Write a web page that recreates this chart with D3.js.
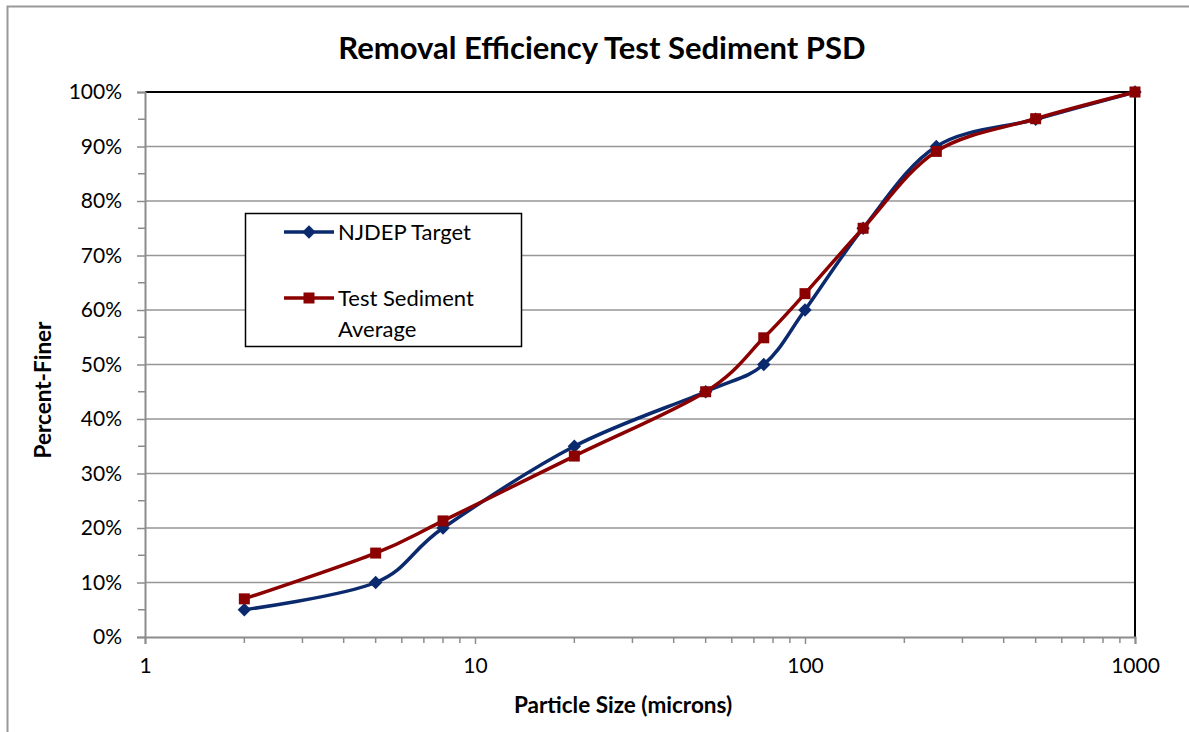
<!DOCTYPE html>
<html>
<head>
<meta charset="utf-8">
<script src="https://cdn.jsdelivr.net/npm/d3@7"></script>
<style>
  body { margin: 0; background: #fff; }
  svg { font-family: Lato, "Open Sans", sans-serif; }
</style>
</head>
<body>
<svg id="chart" width="1189" height="732"></svg>
<script>
// particle sizes (microns) and percent finer
const sizes = [2, 5, 8, 20, 50, 75, 100, 150, 250, 500, 1000];
const njdepTarget = [5, 10, 20, 35, 45, 50, 60, 75, 90, 95, 100];
const testSediment = [7, 15.4, 21.3, 33.2, 45, 54.9, 63, 75, 89.1, 95.1, 100];
const xTicks = [1, 10, 100, 1000];
const yTicks = [0, 10, 20, 30, 40, 50, 60, 70, 80, 90, 100];

const svg = d3.select('#chart');
const margin = { top: 92, right: 54, bottom: 95, left: 145 };
const width = 1189 - margin.left - margin.right;
const height = 732 - margin.top - margin.bottom;

// outer chart border
svg.append('rect')
  .attr('x', 7.5).attr('y', 6.5)
  .attr('width', 1250).attr('height', 800)
  .attr('fill', 'none').attr('stroke', '#999').attr('stroke-width', 2);

svg.append('text')
  .attr('x', 602).attr('y', 59)
  .attr('text-anchor', 'middle')
  .attr('font-size', 31).attr('font-weight', 'bold')
  .text('Removal Efficiency Test Sediment PSD');

const x = d3.scaleLog().domain([1, 1000]).range([0, width]);
const y = d3.scaleLinear().domain([0, 100]).range([height, 0]);

const g = svg.append('g').attr('transform', `translate(${margin.left},${margin.top})`);

// gridlines
g.append('g')
  .selectAll('line')
  .data(yTicks.filter(d => d > 0 && d < 100))
  .join('line')
  .attr('x1', 0).attr('x2', width)
  .attr('y1', d => y(d)).attr('y2', d => y(d))
  .attr('stroke', '#969696').attr('stroke-width', 1.5);

// top and right frame
g.append('line').attr('x1', 0).attr('x2', width).attr('y1', 0).attr('y2', 0)
  .attr('stroke', '#000').attr('stroke-width', 2);
g.append('line').attr('x1', width).attr('x2', width).attr('y1', 0).attr('y2', height)
  .attr('stroke', '#000').attr('stroke-width', 2);

// y axis
const yAxis = g.append('g')
  .call(d3.axisLeft(y).tickValues(yTicks).tickFormat(d => d + '%').tickSize(8).tickPadding(15));
yAxis.select('.domain').attr('stroke', '#8c8c8c').attr('stroke-width', 2);
yAxis.selectAll('.tick line').attr('stroke', '#8c8c8c').attr('stroke-width', 1.5);
yAxis.selectAll('.tick text').attr('font-size', 21).attr('fill', '#000')
  .attr('font-family', 'Lato, sans-serif');
g.append('g')
  .selectAll('line')
  .data(d3.range(5, 100, 10))
  .join('line')
  .attr('x1', -7).attr('x2', 0)
  .attr('y1', d => y(d)).attr('y2', d => y(d))
  .attr('stroke', '#8c8c8c').attr('stroke-width', 1.5);

// x axis
const minor = [];
[1, 10, 100].forEach(dec => { for (let k = 2; k <= 9; k++) minor.push(dec * k); });
const xAxis = g.append('g')
  .attr('transform', `translate(0,${height})`)
  .call(d3.axisBottom(x).tickValues(xTicks).tickFormat(d3.format('d')).tickSize(7).tickPadding(14));
xAxis.select('.domain').attr('stroke', '#8c8c8c').attr('stroke-width', 2);
xAxis.selectAll('.tick line').attr('stroke', '#8c8c8c').attr('stroke-width', 1.5);
xAxis.selectAll('.tick text').attr('font-size', 21).attr('fill', '#000')
  .attr('font-family', 'Lato, sans-serif');
g.append('g')
  .selectAll('line')
  .data(minor)
  .join('line')
  .attr('x1', d => x(d)).attr('x2', d => x(d))
  .attr('y1', height).attr('y2', height + 6)
  .attr('stroke', '#8c8c8c').attr('stroke-width', 1.5);

// axis titles
svg.append('text')
  .attr('x', 623).attr('y', 713)
  .attr('text-anchor', 'middle')
  .attr('font-size', 22.5).attr('font-weight', 'bold')
  .text('Particle Size (microns)');
svg.append('text')
  .attr('transform', 'translate(51,390) rotate(-90)')
  .attr('text-anchor', 'middle')
  .attr('font-size', 22.5).attr('font-weight', 'bold')
  .text('Percent-Finer');

const line = d3.line()
  .x(d => x(d[0]))
  .y(d => y(d[1]))
  .curve(d3.curveCatmullRom.alpha(0));

const series = [
  { name: 'NJDEP Target', values: njdepTarget, color: '#0b2a6e', shape: d3.symbolSquare, size: 90, rot: 45 },
  { name: 'Test Sediment Average', values: testSediment, color: '#8b0000', shape: d3.symbolSquare, size: 121, rot: 0 }
];

series.forEach(s => {
  const pts = sizes.map((d, i) => [d, s.values[i]]);
  g.append('path')
    .datum(pts)
    .attr('fill', 'none')
    .attr('stroke', s.color)
    .attr('stroke-width', 3.5)
    .attr('d', line);
  g.append('g')
    .selectAll('path')
    .data(pts)
    .join('path')
    .attr('transform', d => `translate(${x(d[0])},${y(d[1])}) rotate(${s.rot})`)
    .attr('d', d3.symbol().type(s.shape).size(s.size))
    .attr('fill', s.color);
});

// legend
const lg = svg.append('g');
lg.append('rect')
  .attr('x', 245.5).attr('y', 213.5).attr('width', 276).attr('height', 133)
  .attr('fill', '#fff').attr('stroke', '#000').attr('stroke-width', 1.5);
const legendRows = [
  { s: series[0], y: 232, lines: ['NJDEP Target'] },
  { s: series[1], y: 298, lines: ['Test Sediment', 'Average'] }
];
legendRows.forEach(r => {
  lg.append('line')
    .attr('x1', 284).attr('x2', 334).attr('y1', r.y).attr('y2', r.y)
    .attr('stroke', r.s.color).attr('stroke-width', 3.5);
  lg.append('path')
    .attr('transform', `translate(309,${r.y}) rotate(${r.s.rot})`)
    .attr('d', d3.symbol().type(r.s.shape).size(r.s.size))
    .attr('fill', r.s.color);
  r.lines.forEach((t, i) => {
    lg.append('text')
      .attr('x', 338).attr('y', r.y + 8 + i * 31)
      .attr('font-size', 22)
      .text(t);
  });
});
</script>
</body>
</html>
